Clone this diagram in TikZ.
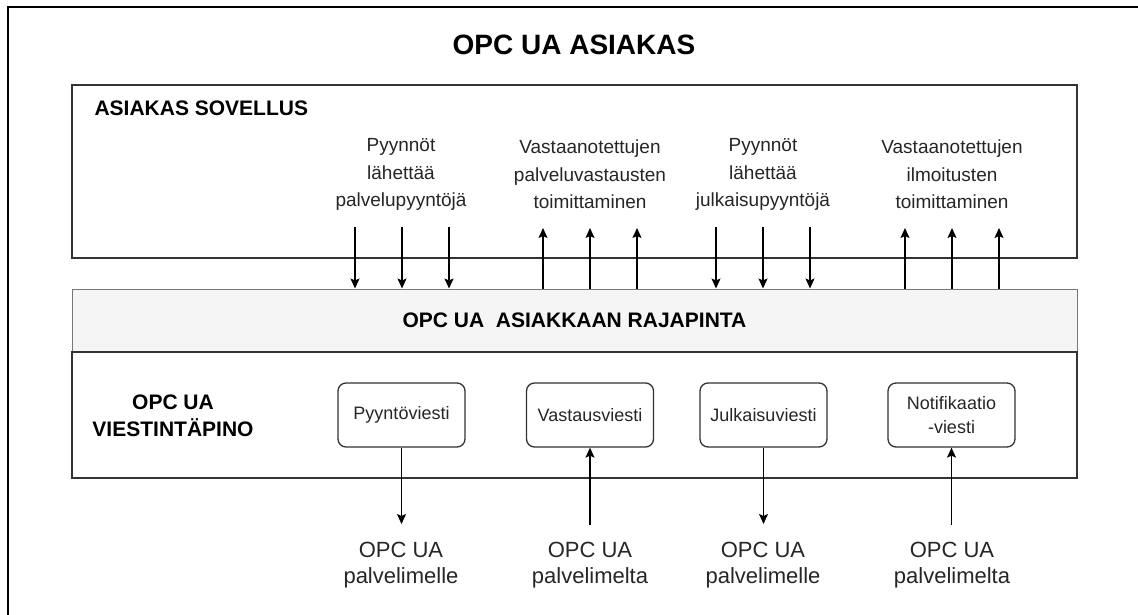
\documentclass[tikz,border=0pt]{standalone}
\usepackage{fontspec}
\setmainfont{Liberation Sans}
\usetikzlibrary{arrows.meta}
\definecolor{linegray}{HTML}{333333}
\definecolor{bandfill}{HTML}{F5F5F5}
\definecolor{bandline}{HTML}{777777}
\definecolor{textgray}{HTML}{262626}
\begin{document}
\begin{tikzpicture}[x=1pt,y=-1pt,
  panel/.style={draw=linegray, line width=1.3pt, inner sep=0pt},
  msgbox/.style={draw=linegray, line width=1.3pt, rounded corners=8pt,
    minimum width=127pt, minimum height=64pt, inner sep=0pt, align=center,
    font=\fontsize{18}{24}\selectfont, text=textgray},
  flow/.style={draw=black, line width=1.3pt,
    -{Stealth[length=10pt,width=9pt,inset=2pt]}},
  lbl/.style={align=center, font=\fontsize{19}{27.5}\selectfont, text=textgray},
  endlbl/.style={align=center, font=\fontsize{22}{26.5}\selectfont, text=textgray},
  heading/.style={font=\bfseries\fontsize{21}{27}\selectfont, align=center}
]
\useasboundingbox (0,0) rectangle (1138,615);
\clip (0,0) rectangle (1138,615);
\fill[white] (0,0) rectangle (1138,615);

% outer frame (runs past the page on the right and bottom)
\draw[line width=2pt] (8,660) -- (8,7) -- (1180,7);

% title
\node[font=\bfseries\fontsize{28}{32}\selectfont] (title) at (574,45) {OPC UA ASIAKAS};

% three layers
\node[panel, minimum width=1005pt, minimum height=173pt] (app) at (574.5,171.5) {};
\node[draw=bandline, fill=bandfill, line width=1pt, minimum width=1005pt,
      minimum height=63pt, inner sep=0pt] (band) at (574.5,320.5) {};
\node[panel, minimum width=1005pt, minimum height=126pt] (stack) at (574.5,415) {};

\node[heading, anchor=west] (apptitle) at (91,108) {ASIAKAS SOVELLUS};
\node[heading] (bandtitle) at (574.5,320.5) {OPC UA\ \ ASIAKKAAN RAJAPINTA};
\node[heading] (stacktitle) at (173,415.5) {OPC UA\\VIESTINT\"APINO};

% application-level labels
\node[lbl] (l1) at (401,174.5) {Pyynn\"ot\\l\"ahett\"a\"a\\palvelupyynt\"oj\"a};
\node[lbl] (l2) at (590,174.5) {Vastaanotettujen\\palveluvastausten\\toimittaminen};
\node[lbl] (l3) at (763,174.5) {Pyynn\"ot\\l\"ahett\"a\"a\\julkaisupyynt\"oj\"a};
\node[lbl] (l4) at (952,174.5) {Vastaanotettujen\\ilmoitusten\\toimittaminen};

% arrows between application and interface
\foreach \x [count=\i] in {355,402,449} {
  \coordinate (a\i) at (\x,227);
  \draw[flow] (a\i) -- (a\i |- band.north);
}
\foreach \x [count=\i] in {543,590,637} {
  \coordinate (b\i) at (\x,228);
  \draw[flow] (b\i |- band.north) -- (b\i);
}
\foreach \x [count=\i] in {716,763,810} {
  \coordinate (c\i) at (\x,227);
  \draw[flow] (c\i) -- (c\i |- band.north);
}
\foreach \x [count=\i] in {905,952,999} {
  \coordinate (d\i) at (\x,228);
  \draw[flow] (d\i |- band.north) -- (d\i);
}

% message boxes
\node[msgbox] (m1) at (401.5,415) {Pyynt\"oviesti};
\node[msgbox] (m2) at (590,415) {Vastausviesti};
\node[msgbox] (m3) at (763.5,415) {Julkaisuviesti};
\node[msgbox] (m4) at (951.5,415) {Notifikaatio\\-viesti};

% server-side labels
\node[endlbl] (e1) at (401,565) {OPC UA\\palvelimelle};
\node[endlbl] (e2) at (590,565) {OPC UA\\palvelimelta};
\node[endlbl] (e3) at (763,565) {OPC UA\\palvelimelle};
\node[endlbl] (e4) at (952,565) {OPC UA\\palvelimelta};

\coordinate (t1) at (401.5,524);
\coordinate (t2) at (590,525);
\coordinate (t3) at (763.5,524);
\coordinate (t4) at (951.5,525);
\draw[flow] (m1.south) -- (t1);
\draw[flow] (t2) -- (m2.south);
\draw[flow] (m3.south) -- (t3);
\draw[flow] (t4) -- (m4.south);
\end{tikzpicture}
\end{document}
